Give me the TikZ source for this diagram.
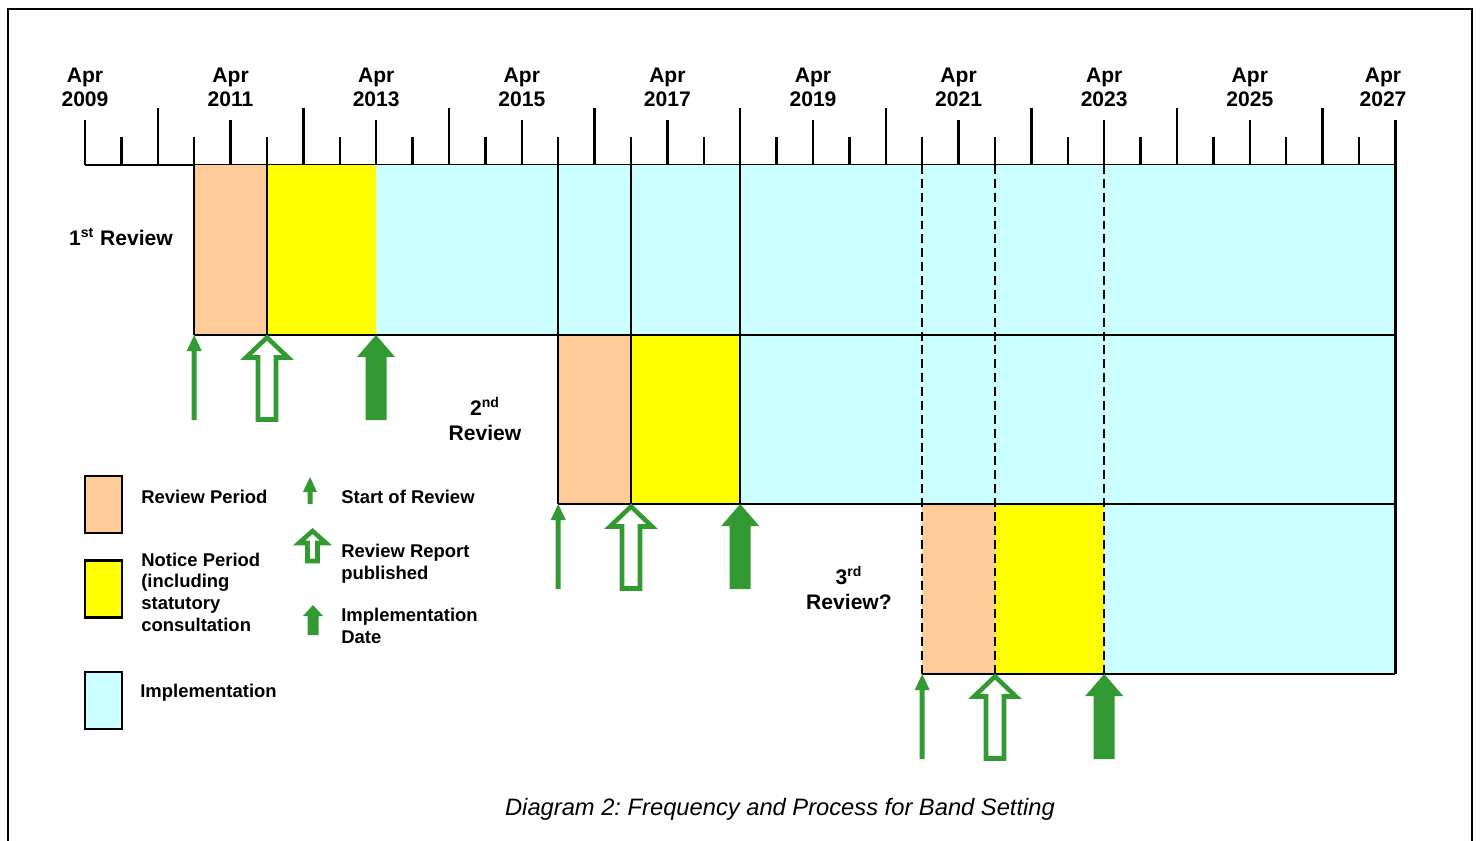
\documentclass[tikz,border=0pt]{standalone}
\usepackage{fontspec}
\setmainfont{Liberation Sans}
\usetikzlibrary{calc}
\definecolor{peach}{HTML}{FFCC99}
\definecolor{notice}{HTML}{FFFF00}
\definecolor{impl}{HTML}{CCFFFF}
\definecolor{arrowgreen}{HTML}{339933}
\frenchspacing
\tikzset{
    axislabel/.style={align=center, inner sep=0pt, font=\fontsize{12}{13.6}\selectfont\bfseries},
    reviewlabel/.style={align=center, inner sep=0pt, font=\fontsize{12}{14.5}\selectfont\bfseries},
    legendtext/.style={align=left, anchor=west, inner sep=0pt, font=\fontsize{10.5}{12.3}\selectfont\bfseries},
    legendbox/.style={draw, line width=1.3pt, inner sep=0pt, minimum width=0.74cm, minimum height=1.14cm},
    bandline/.style={line width=1.3pt},
    futureline/.style={line width=1.3pt, dash pattern=on 5.1pt off 2.8pt},
    startmark/.style={fill=arrowgreen},
    reportmark/.style={draw=arrowgreen, line width=2.6pt, fill=white},
    implmark/.style={fill=arrowgreen}
}
% upward block arrow: style, x, tip y, length, head width, head height, shaft width
\newcommand{\markarrow}[7]{%
    \path[#1] (#2,#3) -- ++({#5/2},{#6}) -- ++({-(#5-#7)/2},0) -- ++(0,{#4-#6})
        -- ++({-#7},0) -- ++(0,{-(#4-#6)}) -- ++({-(#5-#7)/2},0) -- cycle;}

\begin{document}
\begin{tikzpicture}[x=0.02cm, y=-0.02cm]
\useasboundingbox (0,0) rectangle (1480,841);
\draw[line width=1.3pt] (8,841) -- (8,9) -- (1472,9) -- (1472,841);

% time axis
\foreach \i [evaluate=\i as \tickx using {85+36.4*\i},
             evaluate=\i as \ticktop using {ifthenelse(mod(\i,4)==0,120,ifthenelse(mod(\i,4)==2,108,137))}]
    in {0,...,36}
    \draw[bandline] (\tickx,165) -- (\tickx,\ticktop);
\draw[bandline] (85,165) -- (1395.4,165);
\foreach \yr [count=\k from 0] in {2009,2011,...,2025}
    \node[axislabel] (apr\yr) at ({85+145.6*\k},87) {Apr\\\yr};
\node[axislabel] (apr2027) at (1383,87) {Apr\\2027};

% review bands
\foreach \top/\xa/\xb/\xc in {165/194.2/267/376, 335/558.2/631/740.2, 504/922.2/995/1104.2} {
    \fill[peach] (\xa,\top) rectangle (\xb,{\top+169.5});
    \fill[notice] (\xb,\top) rectangle (\xc,{\top+169.5});
    \fill[impl] (\xc,\top) rectangle (1395.4,{\top+169.5});
}
\draw[bandline] (194.2,335) -- (1395.4,335);
\draw[bandline] (558.2,504) -- (1395.4,504);
\draw[bandline] (922.2,674) -- (1395.4,674);
\draw[bandline] (1395.4,165) -- (1395.4,674);
\draw[bandline] (194.2,165) -- (194.2,335);
\draw[bandline] (267,165) -- (267,335);
\foreach \xv in {558.2,631,740.2}
    \draw[bandline] (\xv,165) -- (\xv,504);
\foreach \xv in {922.2,995,1104.2}
    \draw[futureline] (\xv,165) -- (\xv,674);

% milestone arrows
\foreach \ya/\xa/\xb/\xc in {335/194.2/267/376, 504/558.2/631/740.2, 674/922.2/995/1104.2} {
    \markarrow{startmark}{\xa}{\ya}{85}{15}{16}{5}
    \markarrow{reportmark}{\xb}{\ya+2.5}{82}{42}{20}{18}
    \markarrow{implmark}{\xc}{\ya}{85}{38}{22}{21}
}

\node[reviewlabel] (first) at (121,237) {1\textsuperscript{st} Review};
\node[reviewlabel] (second) at (485,419) {2\textsuperscript{nd}\\Review};
\node[reviewlabel] (third) at (849,588) {3\textsuperscript{rd}\\Review?};

% key
\node[legendbox, fill=peach] (keyreview) at (103.5,504.5) {};
\node[legendbox, fill=notice] (keynotice) at (103.5,589) {};
\node[legendbox, fill=impl] (keyimpl) at (103.5,700.5) {};
\node[legendtext] (txtreview) at (141,497) {Review Period};
\node[legendtext] (txtnotice) at (141,592) {Notice Period\\(including\\statutory\\consultation};
\node[legendtext] (txtimpl) at (140,693) {Implementation};

\markarrow{startmark}{310}{477}{27}{14}{15}{5}
\markarrow{reportmark}{312.5}{531}{30}{27}{12}{10}
\markarrow{implmark}{313}{605}{30}{20}{11}{11}
\node[legendtext] (txtstart) at (341,497) {Start of Review};
\node[legendtext] (txtreport) at (341,564) {Review Report\\published};
\node[legendtext] (txtdate) at (341,626) {Implementation\\Date};

\node[font=\fontsize{13.5}{15}\selectfont\itshape] (caption) at (780,809)
    {Diagram 2: Frequency and Process for Band Setting};
\end{tikzpicture}
\end{document}
